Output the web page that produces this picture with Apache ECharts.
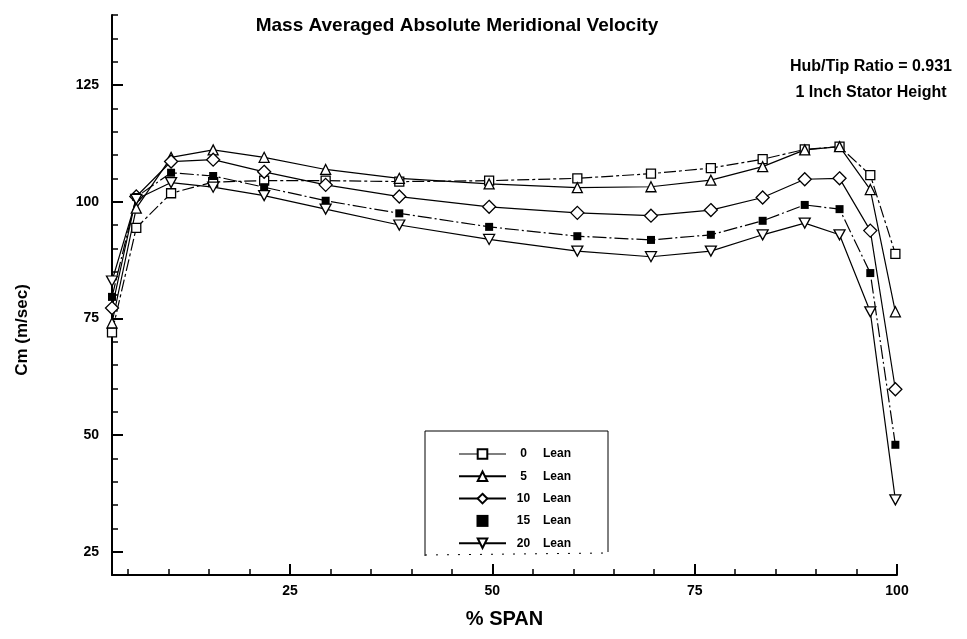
<!DOCTYPE html>
<html>
<head>
<meta charset="utf-8">
<script src="https://cdn.jsdelivr.net/npm/echarts@6/dist/echarts.min.js"></script>
<style>html,body{margin:0;padding:0;background:#fff}#c{width:967px;height:639px}</style>
</head>
<body>
<div id="c"></div>
<script>
const spanPct = [3, 6, 10.3, 15.5, 21.8, 29.4, 38.5, 49.6, 60.5, 69.6, 77, 83.4, 88.6, 92.9, 96.7, 99.8];
const lean0  = [72, 94.4, 101.8, 104.2, 104.5, 104.5, 104.3, 104.5, 105, 106, 107.2, 109.1, 111.2, 111.8, 105.7, 88.8];
const lean5  = [74, 98.6, 109.5, 111.1, 109.5, 106.9, 105, 103.8, 103, 103.2, 104.6, 107.5, 111.1, 111.8, 102.6, 76.4];
const lean10 = [77.2, 101.1, 108.6, 109, 106.4, 103.6, 101.1, 98.9, 97.6, 97, 98.2, 100.9, 104.8, 105, 93.8, 59.8];
const lean15 = [79.6, 101, 106.2, 105.5, 103.1, 100.2, 97.5, 94.6, 92.6, 91.8, 92.9, 95.9, 99.3, 98.4, 84.7, 47.9];
const lean20 = [83, 100.5, 104.1, 103.1, 101.3, 98.4, 95, 91.9, 89.4, 88.2, 89.4, 92.9, 95.4, 92.9, 76.4, 36.1];
const seriesNames = ['0 Lean', '5 Lean', '10 Lean', '15 Lean', '20 Lean'];
const xMajor = [25, 50, 75, 100];
const xMinor = [5, 10, 15, 20, 30, 35, 40, 45, 55, 60, 65, 70, 80, 85, 90, 95];
const yMajor = [25, 50, 75, 100, 125];
const yMinor = [30, 35, 40, 45, 55, 60, 65, 70, 80, 85, 90, 95, 105, 110, 115, 120, 130, 135, 140];

const FONT = 'Liberation Sans, Arial, sans-serif';
const pairs = arr => spanPct.map((x, i) => [x, arr[i]]);
const open = {color: '#fff', borderColor: '#000', borderWidth: 1.3};

function mk(name, arr, symbol, size, itemStyle, dash) {
  return {
    name, type: 'line', data: pairs(arr), symbol, symbolSize: size,
    itemStyle, lineStyle: {color: '#000', width: 1.2, type: dash || 'solid'},
    color: '#000', animation: false, z: 3
  };
}

const chart = echarts.init(document.getElementById('c'), null, {renderer: 'canvas'});
const axisLine = {show: true, lineStyle: {color: '#000', width: 2}};
const solidLeg = {type: 'solid', color: '#000', width: 1.2};
chart.setOption({
  backgroundColor: '#fff',
  animation: false,
  title: [
    {text: 'Mass Averaged Absolute Meridional Velocity', left: 452, top: 11, textAlign: 'center',
     textStyle: {fontFamily: FONT, fontWeight: 'bold', fontSize: 19, color: '#000'}},
    {text: 'Hub/Tip Ratio = 0.931\n1 Inch Stator Height', left: 866, top: 49, textAlign: 'center',
     textStyle: {fontFamily: FONT, fontWeight: 'bold', fontSize: 16, color: '#000', lineHeight: 26, align: 'center'}}
  ],
  grid: {left: 112, right: 70, top: 15, bottom: 64, containLabel: false},
  legend: {
    orient: 'vertical', left: 453, top: 443, itemWidth: 47, itemHeight: 12, itemGap: 10.3,
    selectedMode: false,
    data: [
      {name: '0 Lean', lineStyle: solidLeg}, {name: '5 Lean'}, {name: '10 Lean'},
      {name: '15 Lean', icon: 'path://M0,0L10,0L10,10L0,10Z', itemStyle: {color: '#000', borderWidth: 0}},
      {name: '20 Lean'}
    ],
    formatter: n => '{n|' + n.split(' ')[0] + '}{l|Lean}',
    textStyle: {fontFamily: FONT, fontWeight: 'bold', fontSize: 12, color: '#000',
      rich: {n: {width: 25, align: 'right', fontFamily: FONT, fontWeight: 'bold', fontSize: 12},
             l: {padding: [0, 0, 0, 7], fontFamily: FONT, fontWeight: 'bold', fontSize: 12}}}
  },
  graphic: [
    {type: 'polyline', shape: {points: [[425, 556], [425, 431], [608, 431], [608, 552]]},
     style: {stroke: '#000', lineWidth: 1, fill: null}, silent: true},
    {type: 'line', shape: {x1: 425, y1: 555, x2: 608, y2: 553},
     style: {stroke: '#000', lineWidth: 1, lineDash: [2, 9]}, silent: true},
    {type: 'text', x: 22, y: 330, rotation: Math.PI / 2, silent: true,
     style: {text: 'Cm (m/sec)', fontFamily: FONT, fontWeight: 'bold', fontSize: 17, fill: '#000',
             align: 'center', verticalAlign: 'middle'}}
  ],
  xAxis: [
    {type: 'value', min: 3, max: 100, position: 'bottom',
     name: '% SPAN', nameLocation: 'middle', nameGap: 34,
     nameTextStyle: {fontFamily: FONT, fontWeight: 'bold', fontSize: 20, color: '#000'},
     axisLine, splitLine: {show: false},
     axisTick: {show: true, inside: true, length: 11, customValues: xMajor, lineStyle: {color: '#000', width: 2}},
     axisLabel: {customValues: xMajor, margin: 9, fontFamily: FONT, fontSize: 14, fontWeight: 'bold', color: '#000'}},
    {type: 'value', min: 3, max: 100, position: 'bottom', axisLine: {show: false}, splitLine: {show: false},
     axisTick: {show: true, inside: true, length: 6, customValues: xMinor, lineStyle: {color: '#000', width: 1.5}},
     axisLabel: {show: false}}
  ],
  yAxis: [
    {type: 'value', min: 20, max: 140, position: 'left',
     axisLine, splitLine: {show: false},
     axisTick: {show: true, inside: true, length: 11, customValues: yMajor, lineStyle: {color: '#000', width: 2}},
     axisLabel: {customValues: yMajor, margin: 13, fontFamily: FONT, fontSize: 14, fontWeight: 'bold', color: '#000'}},
    {type: 'value', min: 20, max: 140, position: 'left', axisLine: {show: false}, splitLine: {show: false},
     axisTick: {show: true, inside: true, length: 6, customValues: yMinor, lineStyle: {color: '#000', width: 1.5}},
     axisLabel: {show: false}}
  ],
  series: [
    mk(seriesNames[0], lean0, 'rect', 9, open, [12, 3, 3, 3]),
    mk(seriesNames[1], lean5, 'triangle', 10, open),
    mk(seriesNames[2], lean10, 'diamond', 13, open),
    mk(seriesNames[3], lean15, 'rect', 8, {color: '#000'}, [14, 3, 2, 3]),
    mk(seriesNames[4], lean20, 'path://M0,0L10,0L5,9Z', [11, 10], open)
  ]
});
</script>
</body>
</html>
